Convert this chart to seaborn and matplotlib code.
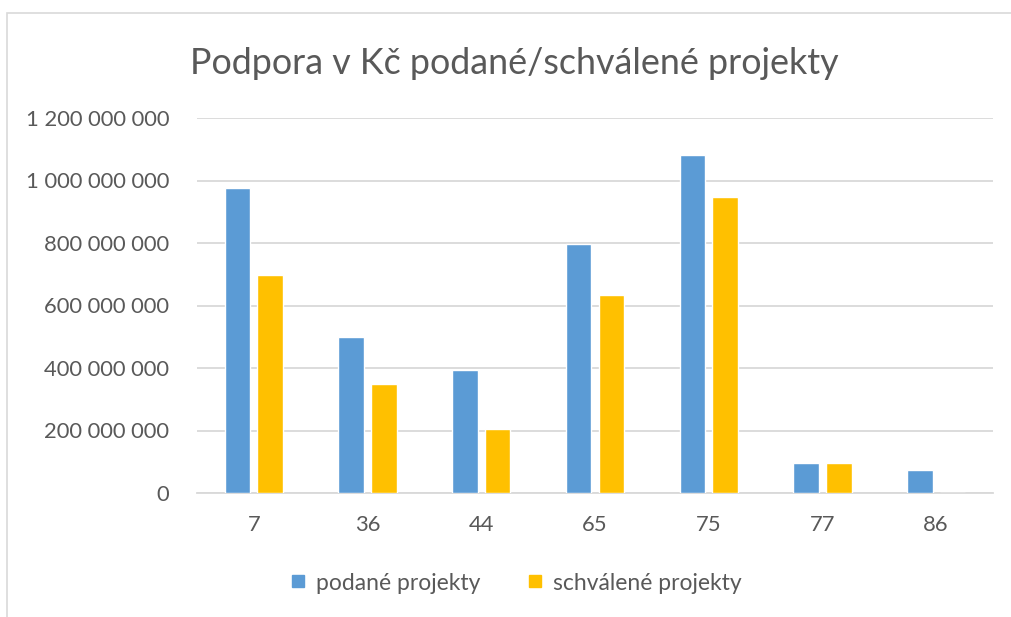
import matplotlib
matplotlib.use("Agg")
import matplotlib.pyplot as plt
from matplotlib.patches import Rectangle
from matplotlib.ticker import FuncFormatter, MultipleLocator
import seaborn as sns
import pandas as pd

categories = ["7", "36", "44", "65", "75", "77", "86"]
podane = [976e6, 498e6, 395e6, 798e6, 1081e6, 97e6, 74e6]
schvalene = [698e6, 350e6, 206e6, 633e6, 947e6, 97e6, 0]
series_names = ["podané projekty", "schválené projekty"]
title = "Podpora v Kč podané/schválené projekty"

colors = ["#5B9BD5", "#FFC000"]
text_color = "#595959"
grid_color = "#D9D9D9"

sns.set_theme(style="white")
plt.rcParams["font.family"] = ["Lato", "DejaVu Sans"]

df = pd.DataFrame({
    "kategorie": categories * 2,
    "hodnota": podane + schvalene,
    "serie": [series_names[0]] * len(categories) + [series_names[1]] * len(categories),
})

fig = plt.figure(figsize=(10.11, 6.17), dpi=100)
fig.patches.append(Rectangle((7 / 1011, -0.1), 1.2, (617 - 13) / 617 + 0.1,
                             transform=fig.transFigure, fill=False,
                             edgecolor=grid_color, linewidth=1.2))

ax = fig.add_axes([197 / 1011, 1 - 493 / 617, (993 - 197) / 1011, (493 - 118) / 617])
sns.barplot(data=df, x="kategorie", y="hodnota", hue="serie", order=categories,
            hue_order=series_names, palette=colors, width=0.577, gap=0.22,
            saturation=1, ax=ax, legend=False, zorder=3)

ax.set_ylim(0, 1.2e9)
ax.set_xlim(-0.5, len(categories) - 0.5)
ax.yaxis.set_major_locator(MultipleLocator(2e8))
ax.yaxis.set_major_formatter(FuncFormatter(lambda v, p: f"{int(round(v)):,}".replace(",", " ")))
ax.grid(axis="y", color=grid_color, linewidth=1.3, zorder=0)
ax.set_axisbelow(True)
for side in ["left", "right", "top"]:
    ax.spines[side].set_visible(False)
ax.spines["bottom"].set_color(grid_color)
ax.spines["bottom"].set_linewidth(1.3)
ax.tick_params(axis="both", length=0, labelsize=15.8, labelcolor=text_color)
ax.tick_params(axis="y", pad=20)
ax.tick_params(axis="x", pad=16)
ax.set_xlabel("")
ax.set_ylabel("")

fig.text(190 / 1011, 1 - 64 / 617, title, fontsize=25.8, color=text_color,
         ha="left", va="center")

handles = [plt.Line2D([], [], marker="s", linestyle="", markersize=9,
                      markerfacecolor=c, markeredgecolor=c) for c in colors]
fig.legend(handles, series_names, loc="center", bbox_to_anchor=(514 / 1011, 1 - 583 / 617),
           ncol=2, frameon=False, fontsize=16.5, labelcolor=text_color,
           handletextpad=0.3, columnspacing=1.85, handlelength=1.0)

fig.savefig("out.png", dpi=100)
